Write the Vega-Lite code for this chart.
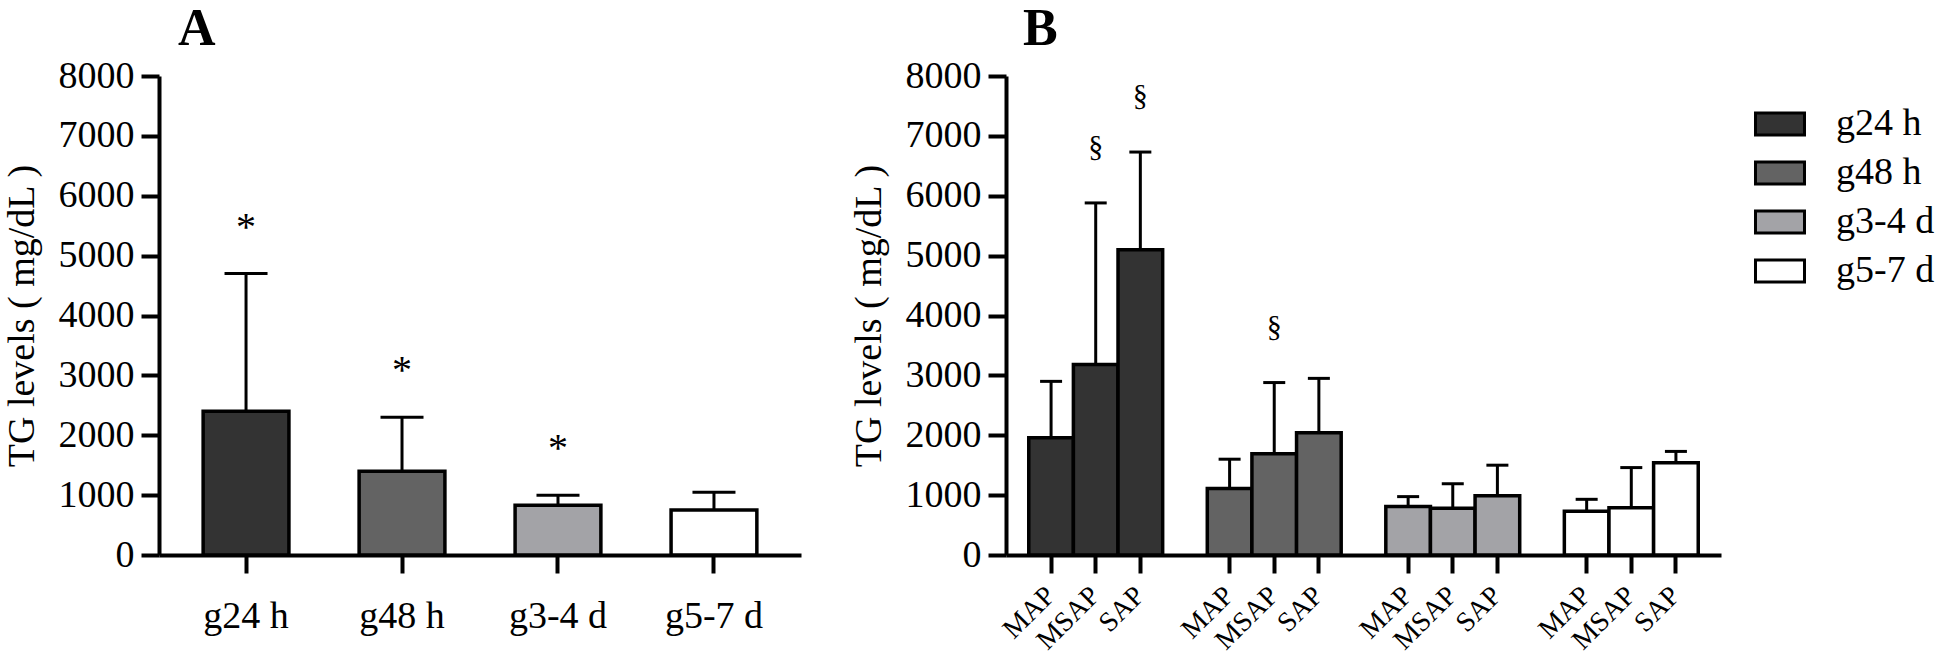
{
  "$schema": "https://vega.github.io/schema/vega-lite/v6.json",
  "padding": {"left": 3, "top": 3, "right": 0, "bottom": 0},
  "background": "white",
  "config": {
    "font": "Liberation Serif",
    "view": {"stroke": null},
    "axis": {
      "domainColor": "black", "domainWidth": 4, "tickColor": "black", "tickWidth": 4, "tickSize": 18,
      "labelFont": "Liberation Serif", "labelFontSize": 38, "labelColor": "black",
      "titleFont": "Liberation Serif", "titleFontSize": 38, "titleFontWeight": "normal", "titleColor": "black",
      "grid": false
    },
    "title": {"font": "Liberation Serif", "fontSize": 52, "fontWeight": "bold", "color": "black", "anchor": "start", "frame": "group"},
    "concat": {"spacing": 49},
    "legend": {
      "orient": "right", "labelFont": "Liberation Serif", "labelFontSize": 38, "labelColor": "black",
      "symbolType": "M-1.5,-0.675H1.5V0.675H-1.5Z", "symbolSize": 1067, "symbolStrokeColor": "black", "symbolStrokeWidth": 3,
      "symbolOpacity": 1, "rowPadding": 11, "labelOffset": 37, "offset": 11, "padding": 29
    }
  },
  "datasets": {
    "a": [
      {"group": "g24 h", "mean": 2400, "upper": 4700, "sig": "*"},
      {"group": "g48 h", "mean": 1400, "upper": 2300, "sig": "*"},
      {"group": "g3-4 d", "mean": 830, "upper": 1000, "sig": "*"},
      {"group": "g5-7 d", "mean": 750, "upper": 1050, "sig": ""}
    ],
    "b": [
      {"group": "g24 h", "key": "g24 h|MAP", "mean": 1960, "upper": 2900, "sig": ""},
      {"group": "g24 h", "key": "g24 h|MSAP", "mean": 3180, "upper": 5880, "sig": "§"},
      {"group": "g24 h", "key": "g24 h|SAP", "mean": 5100, "upper": 6730, "sig": "§"},
      {"group": "g48 h", "key": "g48 h|MAP", "mean": 1110, "upper": 1600, "sig": ""},
      {"group": "g48 h", "key": "g48 h|MSAP", "mean": 1690, "upper": 2880, "sig": "§"},
      {"group": "g48 h", "key": "g48 h|SAP", "mean": 2040, "upper": 2950, "sig": ""},
      {"group": "g3-4 d", "key": "g3-4 d|MAP", "mean": 810, "upper": 975, "sig": ""},
      {"group": "g3-4 d", "key": "g3-4 d|MSAP", "mean": 780, "upper": 1190, "sig": ""},
      {"group": "g3-4 d", "key": "g3-4 d|SAP", "mean": 990, "upper": 1500, "sig": ""},
      {"group": "g5-7 d", "key": "g5-7 d|MAP", "mean": 730, "upper": 930, "sig": ""},
      {"group": "g5-7 d", "key": "g5-7 d|MSAP", "mean": 790, "upper": 1460, "sig": ""},
      {"group": "g5-7 d", "key": "g5-7 d|SAP", "mean": 1540, "upper": 1730, "sig": ""}
    ]
  },
  "hconcat": [
    {
      "width": 642, "height": 479,
      "title": {"text": "A", "dx": 19, "offset": -40, "baseline": "alphabetic"},
      "data": {"name": "a"},
      "encoding": {
        "x": {"field": "group", "type": "nominal", "sort": ["g24 h", "g48 h", "g3-4 d", "g5-7 d"],
              "scale": {"paddingInner": 0.45, "paddingOuter": 0.283},
              "axis": {"title": null, "labelAngle": 0, "labelPadding": 24}}
      },
      "layer": [
        {"mark": {"type": "rule", "strokeWidth": 3, "color": "black"},
         "encoding": {"y": {"field": "mean", "type": "quantitative", "title": "TG levels ( mg/dL )",
                            "scale": {"domain": [0, 8000], "nice": false},
                            "axis": {"values": [0, 1000, 2000, 3000, 4000, 5000, 6000, 7000, 8000], "format": "d", "labelPadding": 7, "titlePadding": 17}},
                      "y2": {"field": "upper"}}},
        {"mark": {"type": "bar", "stroke": "black", "strokeWidth": 3.5, "opacity": 1},
         "encoding": {"y": {"field": "mean", "type": "quantitative", "title": "TG levels ( mg/dL )"},
                      "color": {"field": "group", "type": "nominal",
                                "scale": {"domain": ["g24 h", "g48 h", "g3-4 d", "g5-7 d"], "range": ["#333333", "#636363", "#a3a3a7", "#ffffff"]},
                                "legend": {"title": null}}}},
        {"mark": {"type": "tick", "thickness": 3, "size": 43, "color": "black", "opacity": 1},
         "encoding": {"y": {"field": "upper", "type": "quantitative", "title": "TG levels ( mg/dL )"}}},
        {"transform": [{"filter": "datum.sig != ''"}],
         "mark": {"type": "text", "fontSize": 40, "dy": -34, "baseline": "alphabetic", "color": "black", "font": "Liberation Serif"},
         "encoding": {"y": {"field": "upper", "type": "quantitative", "title": "TG levels ( mg/dL )"}, "text": {"field": "sig"}}}
      ]
    },
    {
      "width": 715, "height": 479,
      "title": {"text": "B", "dx": 17, "offset": -40, "baseline": "alphabetic"},
      "data": {"name": "b"},
      "encoding": {
        "x": {"field": "key", "type": "nominal",
              "scale": {"domain": ["g24 h|MAP", "g24 h|MSAP", "g24 h|SAP", "s1", "g48 h|MAP", "g48 h|MSAP", "g48 h|SAP", "s2", "g3-4 d|MAP", "g3-4 d|MSAP", "g3-4 d|SAP", "s3", "g5-7 d|MAP", "g5-7 d|MSAP", "g5-7 d|SAP"],
                        "paddingInner": 0, "paddingOuter": 0.51},
              "axis": {"title": null, "values": ["g24 h|MAP", "g24 h|MSAP", "g24 h|SAP", "g48 h|MAP", "g48 h|MSAP", "g48 h|SAP", "g3-4 d|MAP", "g3-4 d|MSAP", "g3-4 d|SAP", "g5-7 d|MAP", "g5-7 d|MSAP", "g5-7 d|SAP"],
                       "labelExpr": "split(datum.value, '|')[1]", "labelAngle": -45, "labelAlign": "right", "labelBaseline": "middle", "labelPadding": 18, "labelFontSize": 28}}
      },
      "layer": [
        {"mark": {"type": "rule", "strokeWidth": 3, "color": "black"},
         "encoding": {"y": {"field": "mean", "type": "quantitative", "title": "TG levels ( mg/dL )",
                            "scale": {"domain": [0, 8000], "nice": false},
                            "axis": {"values": [0, 1000, 2000, 3000, 4000, 5000, 6000, 7000, 8000], "format": "d", "labelPadding": 7, "titlePadding": 17}},
                      "y2": {"field": "upper"}}},
        {"mark": {"type": "bar", "stroke": "black", "strokeWidth": 3.5, "opacity": 1},
         "encoding": {"y": {"field": "mean", "type": "quantitative", "title": "TG levels ( mg/dL )"},
                      "color": {"field": "group", "type": "nominal",
                                "scale": {"domain": ["g24 h", "g48 h", "g3-4 d", "g5-7 d"], "range": ["#333333", "#636363", "#a3a3a7", "#ffffff"]},
                                "legend": {"title": null}}}},
        {"mark": {"type": "tick", "thickness": 3, "size": 22, "color": "black", "opacity": 1},
         "encoding": {"y": {"field": "upper", "type": "quantitative", "title": "TG levels ( mg/dL )"}}},
        {"transform": [{"filter": "datum.sig != ''"}],
         "mark": {"type": "text", "fontSize": 30, "dy": -47, "baseline": "alphabetic", "color": "black", "font": "Liberation Serif"},
         "encoding": {"y": {"field": "upper", "type": "quantitative", "title": "TG levels ( mg/dL )"}, "text": {"field": "sig"}}}
      ]
    }
  ],
  "resolve": {"scale": {"color": "shared"}}
}
